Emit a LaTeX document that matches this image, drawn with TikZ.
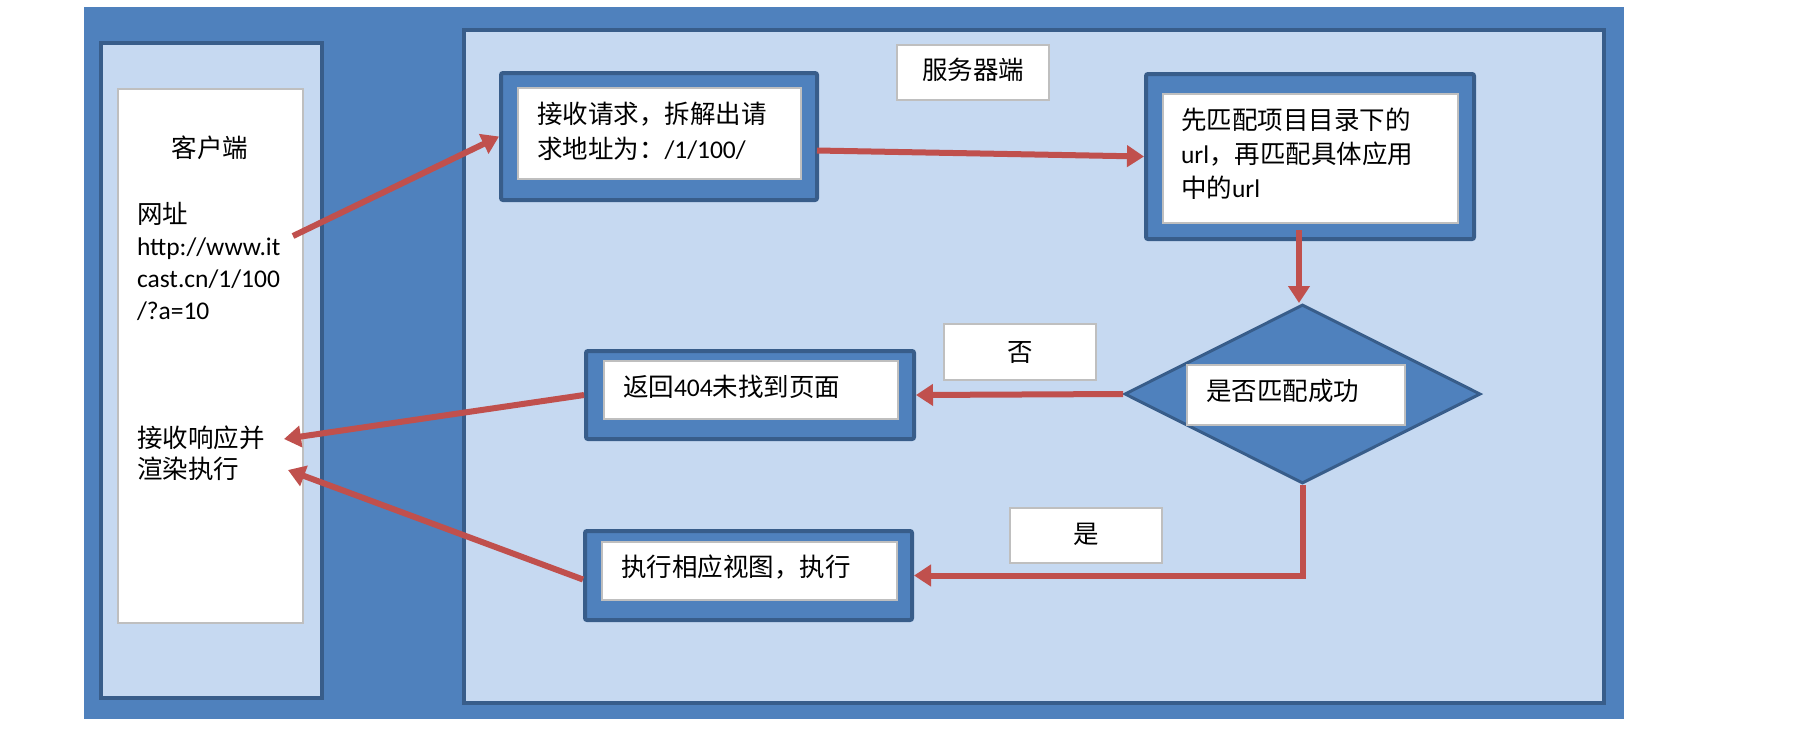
\documentclass[tikz,border=0pt]{standalone}
\usepackage{fontspec}
\setmainfont{Carlito}
\newfontfamily\cjk{Noto Sans CJK SC}
\usetikzlibrary{arrows.meta,shapes.geometric,fit,calc}
\definecolor{bgblue}{HTML}{4F81BD}
\definecolor{paleblue}{HTML}{C6D9F1}
\definecolor{edgeblue}{HTML}{385D8A}
\definecolor{flowred}{HTML}{C0504D}
\definecolor{rim}{HTML}{BFBFBF}

\begin{document}
\begin{tikzpicture}[x=1pt,y=-1pt,
  panel/.style={draw=edgeblue,line width=4pt,fill=paleblue,inner sep=0pt},
  procbox/.style={draw=edgeblue,line width=4pt,fill=bgblue,rounded corners=2pt,inner sep=0pt},
  card/.style={draw=rim,line width=1.2pt,fill=white,inner sep=0pt},
  decision/.style={diamond,draw=edgeblue,line width=3pt,fill=bgblue,inner sep=0pt,
                   minimum width=356pt,minimum height=179pt},
  flow/.style={draw=flowred,line width=6pt,-{Triangle[length=17pt,width=21pt]}},
  txt/.style={inner sep=0pt,outer sep=0pt,font=\fontsize{25.5}{32}\selectfont},
  para/.style={txt,align=left,anchor=base west,text width=#1},
]
% page and outer frame
\fill[white] (0,0) rectangle (1806,732);
\useasboundingbox (0,0) rectangle (1806,732);
\node[fit={(84,7) (1624,719)},fill=bgblue,inner sep=0pt] (frame) {};

% the two panels
\node[panel,fit={(101,43) (322,698)}] (client) {};
\node[panel,fit={(464,30) (1604,703)}] (server) {};
\node[card,fit={(118,89) (303,623)}] (clientcard) {};
\node[card,fit={(897,45) (1049,100)}] (srvcard) {};

% process boxes
\node[procbox,fit={(501,73) (817,200)}] (recv) {};
\node[card,fit={(518,88) (801,179)}] (recvcard) {};
\node[procbox,fit={(1146,74) (1474,239)}] (match) {};
\node[card,fit={(1163,94) (1458,223)}] (matchcard) {};
\node[procbox,fit={(586,351) (914,439)}] (notfound) {};
\node[card,fit={(604,361) (898,419)}] (notfoundcard) {};
\node[procbox,fit={(585,531) (912,620)}] (exec) {};
\node[card,fit={(602,542) (897,600)}] (execcard) {};

% decision
\node[decision] (ok) at (1302.5,394) {};
\node[card,fit={(1187,365) (1405,425)}] (okcard) {};

% branch labels
\node[card,fit={(944,324) (1096,380)}] (nocard) {};
\node[card,fit={(1010,508) (1162,563)}] (yescard) {};

% texts
\node[txt,anchor=base] (clienttitle) at (210,157) {\cjk 客户端};
\node[para=175pt] (urltext) at (137,223) {{\cjk 网址}\\http://www.it\\cast.cn/1/100\\/?a=10};
\node[para=170pt,font=\fontsize{25.5}{31}\selectfont] (rendertext) at (137,447)
  {{\cjk 接收响应并}\\{\cjk 渲染执行}};
\node[txt,anchor=base] (servertitle) at (973,79) {\cjk 服务器端};
\node[para=270pt,font=\fontsize{25.5}{35}\selectfont] (recvtext) at (537,123)
  {{\cjk 接收请求，拆解出请}\\{\cjk 求地址为：}/1/100/};
\node[para=272pt,font=\fontsize{25.5}{34}\selectfont] (matchtext) at (1181,129)
  {{\cjk 先匹配项目目录下的}\\url{\cjk ，再匹配具体应用}\\{\cjk 中的}url};
\node[para=200pt] (oktext) at (1206,400) {\cjk 是否匹配成功};
\node[para=270pt] (notfoundtext) at (623,396) {{\cjk 返回}404{\cjk 未找到页面}};
\node[para=270pt] (exectext) at (621,576) {\cjk 执行相应视图，执行};
\node[txt,anchor=base] (notext) at (1020,361) {\cjk 否};
\node[txt,anchor=base] (yestext) at (1086,543) {\cjk 是};

% connectors
\coordinate (urlout) at (293,236);
\coordinate (backA) at (284,439);
\coordinate (backB) at (288,470);
\coordinate (matchout) at (1299,230);

\draw[flow] (urlout) -- (recv.west);
\draw[flow] ($(recv.east)+(-2,14)$) -- (match.west);
\draw[flow] (matchout) -- (matchout |- ok.north);
\draw[flow] (ok.west) -- (notfound.east);
\draw[flow] (notfound.west) -- (backA);
\draw[flow] (ok.south) |- (exec.east);
\draw[flow] ($(exec.west)+(0,4)$) -- (backB);
\end{tikzpicture}
\end{document}
